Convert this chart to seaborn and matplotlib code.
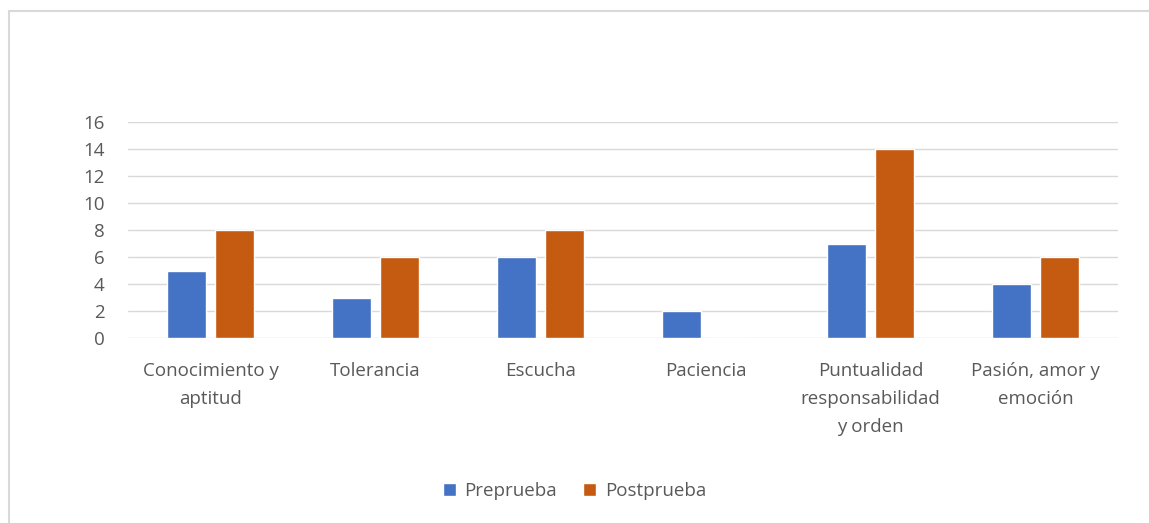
import matplotlib
matplotlib.use("Agg")
import matplotlib.pyplot as plt
import seaborn as sns
import pandas as pd
from matplotlib.patches import Rectangle

categories = ["Conocimiento y\naptitud", "Tolerancia", "Escucha", "Paciencia",
              "Puntualidad\nresponsabilidad\ny orden", "Pasión, amor y\nemoción"]
pre_values = [5, 3, 6, 2, 7, 4]
post_values = [8, 6, 8, 0, 14, 6]
series_names = ["Preprueba", "Postprueba"]
y_ticks = [0, 2, 4, 6, 8, 10, 12, 14, 16]

df = pd.DataFrame({
    "cat": categories * 2,
    "val": pre_values + post_values,
    "serie": [series_names[0]] * len(categories) + [series_names[1]] * len(categories),
})

sns.set_theme(style="white")
plt.rcParams["font.family"] = ["Open Sans", "DejaVu Sans"]

fig = plt.figure(figsize=(11.49, 5.23), dpi=100)
ax = fig.add_axes([128 / 1149, 1 - 338 / 523, (1118 - 128) / 1149, (338 - 122) / 523])

sns.barplot(data=df, x="cat", y="val", hue="serie", order=categories,
            hue_order=series_names, palette=["#4472C4", "#C55A11"], saturation=1,
            width=0.58, gap=0.19, ax=ax, legend=True, zorder=3)

ax.set_ylim(0, 16)
ax.set_yticks(y_ticks)
ax.set_xlim(-0.5, len(categories) - 0.5)
ax.set_xticks(range(len(categories)), categories, linespacing=1.72)
ax.grid(axis="y", color="#D9D9D9", linewidth=1.0, zorder=0)
ax.set_axisbelow(True)
for s in ax.spines.values():
    s.set_visible(False)
ax.set_xlabel("")
ax.set_ylabel("")
ax.tick_params(axis="both", length=0, labelsize=13.5, labelcolor="#595959")
ax.tick_params(axis="y", pad=17)
ax.tick_params(axis="x", pad=17)

leg = ax.legend(loc="center", ncol=2, frameon=False, fontsize=13.5, handlelength=0.7,
                handleheight=0.7, columnspacing=1.4, handletextpad=0.45)
leg.set_bbox_to_anchor((0.5, 1 - 491 / 523), transform=fig.transFigure)
for t in leg.get_texts():
    t.set_color("#595959")

fig.patches.append(Rectangle((9 / 1149, -0.1), 1.2, 1.1 - 11 / 523,
                             transform=fig.transFigure, fill=False,
                             edgecolor="#D9D9D9", linewidth=1.5))

fig.savefig("out.png", dpi=100, facecolor="white")
